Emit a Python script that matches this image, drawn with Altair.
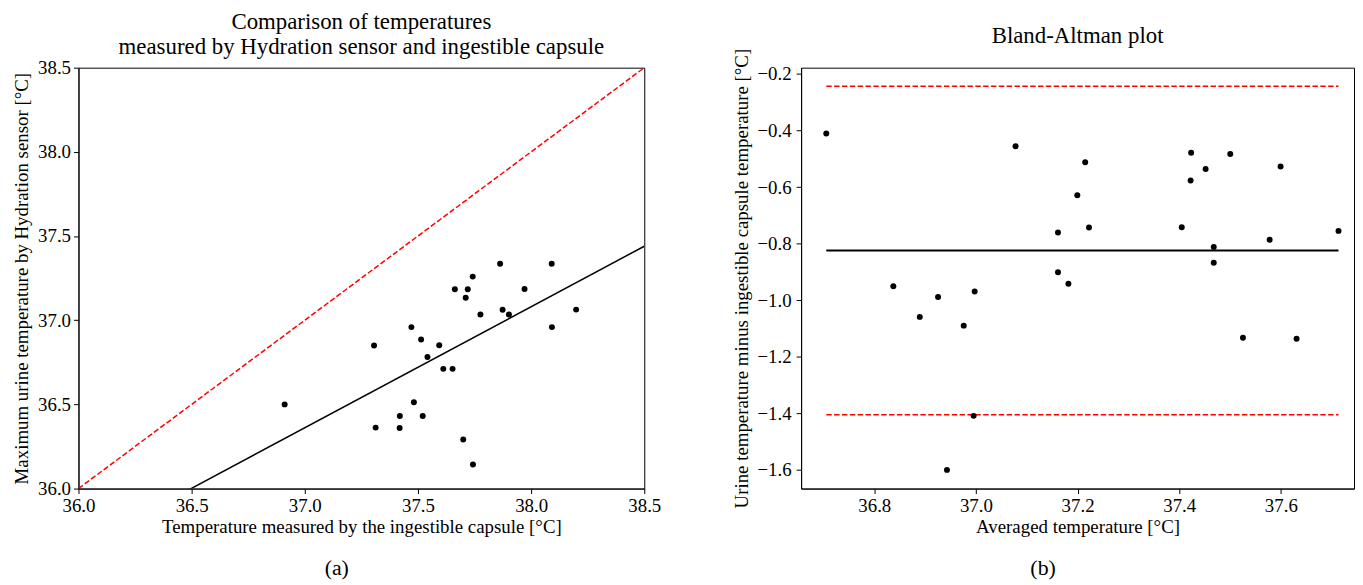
import altair as alt
import pandas as pd

capsule = [36.911, 37.306, 37.514, 37.542, 37.612, 37.653, 37.313, 37.420, 37.482,
           37.419, 37.521, 37.700, 37.743, 37.471, 37.594, 37.776, 37.663, 37.711,
           37.720, 37.742, 37.874, 37.902, 38.092, 37.971, 37.863, 38.199, 38.091]
sensor = [36.500, 36.850, 36.885, 36.781, 36.711, 36.711, 36.362, 36.431, 36.513,
          36.360, 36.431, 36.291, 36.143, 36.959, 36.851, 37.034, 37.184, 37.134,
          37.184, 37.259, 37.062, 37.034, 36.959, 37.185, 37.336, 37.063, 37.336]

identity_line = [36.0, 38.5]
left_ticks = [36.0, 36.5, 37.0, 37.5, 38.0, 38.5]
right_x_ticks = [36.8, 37.0, 37.2, 37.4, 37.6]
right_y_ticks = [-1.6, -1.4, -1.2, -1.0, -0.8, -0.6, -0.4, -0.2]
left_domain = [36.0, 38.5]
right_x_domain = [36.656, 37.744]
right_y_domain = [-1.666, -0.178]

FONT = "Liberation Serif"

df = pd.DataFrame({"capsule": capsule, "sensor": sensor})
ident = pd.DataFrame({"capsule": identity_line, "sensor": identity_line})

# ---------- left panel ----------
xl_title = "Temperature measured by the ingestible capsule [°C]"
yl_title = "Maximum urine temperature by Hydration sensor [°C]"
xl = alt.X("capsule:Q", scale=alt.Scale(domain=left_domain, nice=False, zero=False),
           axis=alt.Axis(values=left_ticks, format=".1f", title=xl_title, labelFlush=False,
                         titlePadding=2))
yl = alt.Y("sensor:Q", scale=alt.Scale(domain=left_domain, nice=False, zero=False),
           axis=alt.Axis(values=left_ticks, format=".1f", title=yl_title, labelFlush=False,
                         titlePadding=6))

pts_l = alt.Chart(df).mark_circle(size=36, color="black", opacity=1).encode(x=xl, y=yl)
fit_l = alt.Chart(df).transform_regression(
    "capsule", "sensor", extent=left_domain
).mark_line(color="black", strokeWidth=1.5, clip=True).encode(x=xl, y=yl)
id_l = alt.Chart(ident).mark_line(color="#ff0000", strokeWidth=1.5, strokeDash=[5.5, 2.4],
                                  clip=True).encode(x=xl, y=yl)

TITLE_KW = dict(fontSize=23, lineHeight=25, offset=0, font=FONT,
                fontWeight="normal", anchor="middle", color="black")

left = alt.layer(id_l, fit_l, pts_l).properties(
    width=570, height=424,
    title=alt.TitleParams(["Comparison of temperatures",
                           "measured by Hydration sensor and ingestible capsule"],
                          **TITLE_KW))

# ---------- right panel ----------
xr_title = "Averaged temperature [°C]"
yr_title = "Urine temperature minus ingestible capsule temperature [°C]"
xr_scale = alt.Scale(domain=right_x_domain, nice=False, zero=False)
yr_scale = alt.Scale(domain=right_y_domain, nice=False, zero=False)
xr_axis = alt.Axis(values=right_x_ticks, format=".1f", title=xr_title, labelFlush=False,
                   titlePadding=2)
yr_axis = alt.Axis(values=right_y_ticks, format=".1f", title=yr_title, labelFlush=False,
                   titlePadding=6, labelPadding=5)

ba = alt.Chart(df).transform_calculate(
    mean="(datum.capsule + datum.sensor) / 2",
    diff="datum.sensor - datum.capsule",
)
pts_r = ba.mark_circle(size=36, color="black", opacity=1).encode(
    x=alt.X("mean:Q", scale=xr_scale, axis=xr_axis),
    y=alt.Y("diff:Q", scale=yr_scale, axis=yr_axis))

stats = ba.transform_aggregate(
    md="mean(diff)", sd="stdev(diff)", xmin="min(mean)", xmax="max(mean)"
).transform_calculate(
    upper="datum.md + 1.96 * datum.sd",
    lower="datum.md - 1.96 * datum.sd",
)
mean_rule = stats.mark_rule(color="black", strokeWidth=2).encode(
    x=alt.X("xmin:Q", scale=xr_scale, axis=xr_axis), x2="xmax:Q",
    y=alt.Y("md:Q", scale=yr_scale, axis=yr_axis))
up_rule = stats.mark_rule(color="#ff0000", strokeWidth=1.5, strokeDash=[5.5, 2.4]).encode(
    x=alt.X("xmin:Q", scale=xr_scale, axis=xr_axis), x2="xmax:Q",
    y=alt.Y("upper:Q", scale=yr_scale, axis=yr_axis))
lo_rule = stats.mark_rule(color="#ff0000", strokeWidth=1.5, strokeDash=[5.5, 2.4]).encode(
    x=alt.X("xmin:Q", scale=xr_scale, axis=xr_axis), x2="xmax:Q",
    y=alt.Y("lower:Q", scale=yr_scale, axis=yr_axis))

right = alt.layer(up_rule, lo_rule, mean_rule, pts_r).properties(
    width=557, height=424,
    title=alt.TitleParams(["\u00a0", "Bland-Altman plot"], **TITLE_KW))

CAP_KW = dict(orient="bottom", fontSize=22, font=FONT, fontWeight="normal",
              offset=22, anchor="middle", color="black")

chart = alt.hconcat(
    alt.vconcat(left).properties(title=alt.TitleParams("(a)", **CAP_KW)),
    alt.vconcat(right).properties(title=alt.TitleParams("(b)", **CAP_KW)),
    spacing=70,
).properties(
    padding={"left": 4, "top": -11, "right": 0, "bottom": 0},
    background="white",
).configure_view(
    stroke="black", strokeWidth=1
).configure_axis(
    grid=False, domainColor="black", tickColor="black", labelColor="black",
    titleColor="black", labelFont=FONT, titleFont=FONT, labelFontSize=19,
    titleFontSize=19, titleFontWeight="normal", tickSize=5, labelPadding=3,
    domainWidth=1, tickWidth=1,
)

chart.save("out.html", embed_options={"renderer": "svg", "actions": False})
